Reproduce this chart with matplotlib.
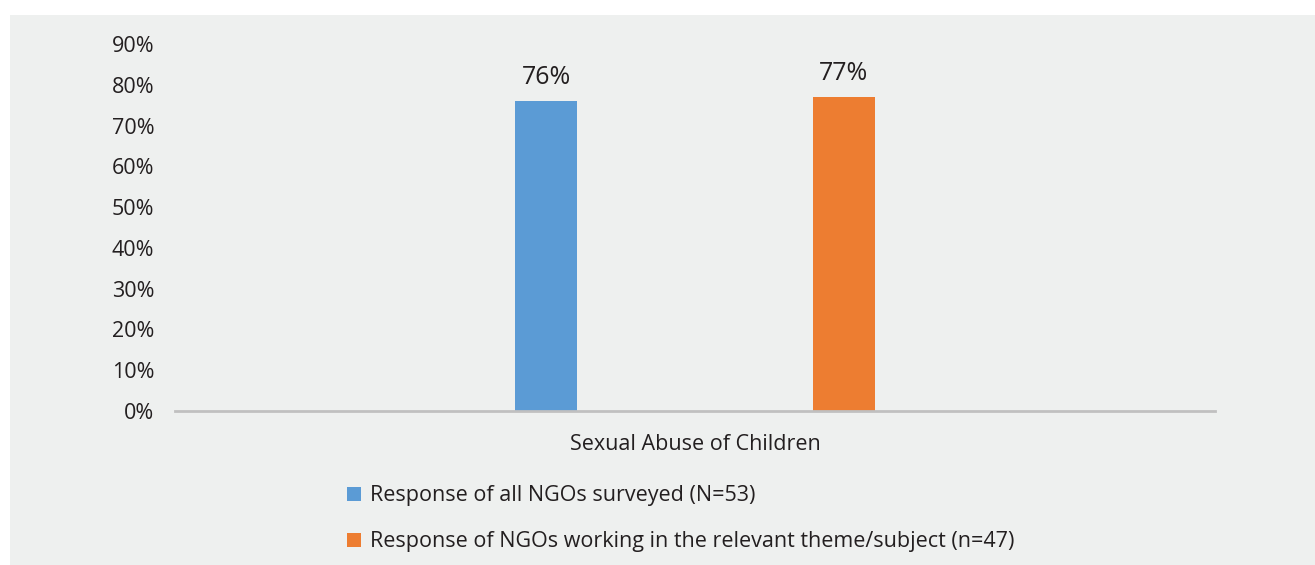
import matplotlib.pyplot as plt
from matplotlib.patches import Rectangle

plt.rcParams['font.family'] = ['Open Sans', 'DejaVu Sans']

category = "Sexual Abuse of Children"
series_names = ["Response of all NGOs surveyed (N=53)",
                "Response of NGOs working in the relevant theme/subject (n=47)"]
values = [0.76, 0.77]
colors = ['#5B9BD5', '#ED7D31']
yticks = [0, 0.1, 0.2, 0.3, 0.4, 0.5, 0.6, 0.7, 0.8, 0.9]

bg = '#EEF0EF'
txt = '#231F20'

fig = plt.figure(figsize=(13.15, 5.65), dpi=100)
fig.patches.append(Rectangle((10 / 1315, 0), 1, 1 - 15 / 565, transform=fig.transFigure,
                             facecolor=bg, edgecolor='none', zorder=-1))

ax = fig.add_axes([175 / 1315, 1 - 411 / 565, 1040 / 1315, 367 / 565])
ax.set_facecolor(bg)

offsets = [-0.143, 0.143]
for off, v, c in zip(offsets, values, colors):
    ax.bar(off, v, width=0.06, color=c)
    ax.text(off, v + 0.028, f"{v * 100:.0f}%", ha='center', va='bottom', fontsize=18, color=txt)

ax.set_xlim(-0.5, 0.5)
ax.set_ylim(0, 0.9)
ax.set_yticks(yticks)
ax.set_yticklabels([f"{t * 100:.0f}%" for t in yticks], fontsize=15.5, color=txt)
ax.tick_params(axis='y', length=0, pad=15)
ax.set_xticks([0])
ax.set_xticklabels([category], fontsize=15.5, color=txt)
ax.tick_params(axis='x', length=0, pad=16.5)
for s in ['top', 'right', 'left']:
    ax.spines[s].set_visible(False)
ax.spines['bottom'].set_color('#C0C0C0')
ax.spines['bottom'].set_linewidth(2)

# legend drawn in figure coordinates
for i, (name, c) in enumerate(zip(series_names, colors)):
    y = 1 - (494 + 46 * i) / 565
    fig.patches.append(Rectangle((347 / 1315, y - 7 / 565), 14 / 1315, 14 / 565,
                                 transform=fig.transFigure, facecolor=c, edgecolor='none'))
    fig.text(370 / 1315, y - 2 / 565, name, fontsize=15.5, color=txt, va='center', ha='left')

fig.savefig('out.png', dpi=100, facecolor='white')
